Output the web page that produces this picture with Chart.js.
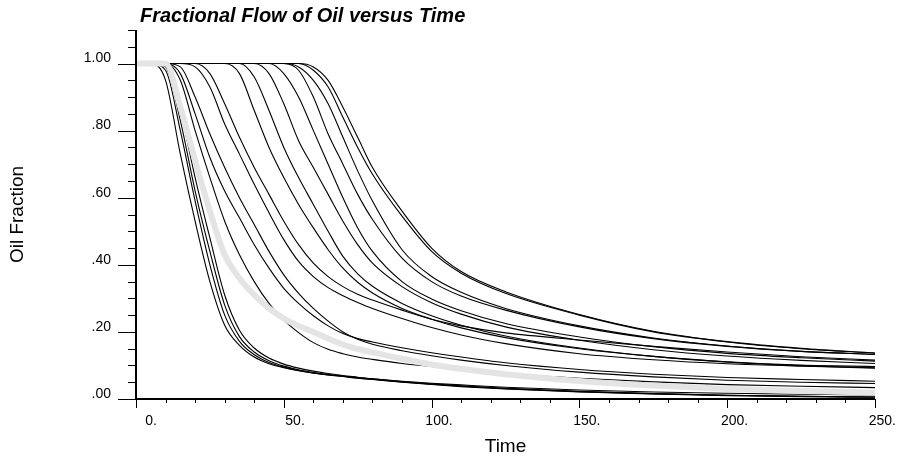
<!DOCTYPE html>
<html>
<head>
<meta charset="utf-8">
<script src="https://cdn.jsdelivr.net/npm/chart.js@4/dist/chart.umd.min.js"></script>
<style>
  html, body { margin: 0; padding: 0; background: #ffffff; }
  canvas { display: block; }
</style>
</head>
<body>
<canvas id="flow" width="898" height="456"></canvas>
<script>
// Sample times shared by every curve
const times = [0, 5, 10, 15, 20, 25, 30, 35, 40, 45, 50, 55, 60, 65, 70, 75, 80, 90, 100, 110, 125, 150, 175, 200, 225, 250];

// Tick labels
const yTickLabels = ['.00', '.20', '.40', '.60', '.80', '1.00'];
const xTickLabels = ['0.', '50.', '100.', '150.', '200.', '250.'];

const chartTitle = 'Fractional Flow of Oil versus Time';

// Highlighted (thick grey) curve
const highlightCurve = [1, 1, 1, 0.87, 0.71, 0.56, 0.43, 0.36, 0.31, 0.27, 0.24, 0.218, 0.2, 0.18, 0.162, 0.149, 0.139, 0.12, 0.103, 0.09, 0.074, 0.054, 0.04, 0.03, 0.024, 0.019];

// Oil fraction of each run, earliest breakthrough first
const run01 = [1, 1, 0.95, 0.73, 0.53, 0.35, 0.22, 0.16, 0.125, 0.105, 0.093, 0.084, 0.077, 0.072, 0.068, 0.064, 0.06, 0.053, 0.047, 0.042, 0.035, 0.027, 0.021, 0.017, 0.014, 0.012];
const run02 = [1, 1, 0.98, 0.8, 0.59, 0.4, 0.25, 0.172, 0.132, 0.109, 0.095, 0.085, 0.078, 0.072, 0.067, 0.062, 0.058, 0.05, 0.043, 0.037, 0.03, 0.021, 0.015, 0.01, 0.007, 0.005];
const run03 = [1, 1, 0.99, 0.83, 0.62, 0.44, 0.28, 0.186, 0.14, 0.114, 0.098, 0.087, 0.079, 0.073, 0.068, 0.063, 0.059, 0.051, 0.044, 0.038, 0.031, 0.022, 0.016, 0.011, 0.008, 0.006];
const run04 = [1, 1, 1, 0.86, 0.66, 0.48, 0.31, 0.205, 0.152, 0.122, 0.104, 0.092, 0.083, 0.076, 0.07, 0.065, 0.06, 0.052, 0.045, 0.039, 0.032, 0.023, 0.016, 0.011, 0.008, 0.006];
const run05 = [1, 1, 1, 0.95, 0.8, 0.66, 0.53, 0.43, 0.35, 0.285, 0.235, 0.198, 0.168, 0.148, 0.135, 0.125, 0.118, 0.106, 0.097, 0.088, 0.076, 0.062, 0.051, 0.043, 0.038, 0.034];
const run06 = [1, 1, 1, 0.97, 0.85, 0.72, 0.62, 0.54, 0.46, 0.39, 0.33, 0.285, 0.248, 0.218, 0.195, 0.18, 0.17, 0.153, 0.138, 0.125, 0.108, 0.088, 0.074, 0.064, 0.058, 0.053];
const run07 = [1, 1, 1, 0.99, 0.9, 0.79, 0.69, 0.6, 0.52, 0.44, 0.37, 0.315, 0.27, 0.232, 0.2, 0.178, 0.163, 0.144, 0.129, 0.116, 0.1, 0.08, 0.066, 0.056, 0.05, 0.046];
const run08 = [1, 1, 1, 1, 0.99, 0.93, 0.82, 0.73, 0.64, 0.555, 0.475, 0.41, 0.365, 0.332, 0.308, 0.288, 0.27, 0.24, 0.213, 0.191, 0.165, 0.135, 0.117, 0.105, 0.098, 0.093];
const run09 = [1, 1, 1, 1, 1, 0.97, 0.88, 0.78, 0.69, 0.61, 0.53, 0.46, 0.405, 0.365, 0.335, 0.312, 0.295, 0.265, 0.238, 0.218, 0.197, 0.176, 0.157, 0.14, 0.126, 0.116];
const run10 = [1, 1, 1, 1, 1, 1, 1, 0.97, 0.86, 0.75, 0.66, 0.58, 0.51, 0.445, 0.39, 0.348, 0.316, 0.27, 0.238, 0.212, 0.183, 0.15, 0.127, 0.111, 0.101, 0.097];
const run11 = [1, 1, 1, 1, 1, 1, 1, 1, 0.96, 0.86, 0.75, 0.66, 0.58, 0.5, 0.425, 0.373, 0.336, 0.285, 0.248, 0.22, 0.188, 0.152, 0.127, 0.11, 0.099, 0.092];
const run12 = [1, 1, 1, 1, 1, 1, 1, 1, 1, 0.97, 0.88, 0.77, 0.69, 0.61, 0.53, 0.46, 0.405, 0.335, 0.287, 0.253, 0.215, 0.175, 0.147, 0.128, 0.115, 0.106];
const run13 = [1, 1, 1, 1, 1, 1, 1, 1, 1, 1, 0.97, 0.9, 0.8, 0.7, 0.6, 0.51, 0.44, 0.35, 0.298, 0.263, 0.225, 0.185, 0.156, 0.136, 0.123, 0.113];
const run14 = [1, 1, 1, 1, 1, 1, 1, 1, 1, 1, 1, 0.98, 0.9, 0.79, 0.7, 0.61, 0.535, 0.42, 0.35, 0.307, 0.265, 0.215, 0.18, 0.157, 0.142, 0.133];
const run15 = [1, 1, 1, 1, 1, 1, 1, 1, 1, 1, 1, 0.99, 0.95, 0.88, 0.78, 0.68, 0.59, 0.445, 0.365, 0.318, 0.27, 0.218, 0.182, 0.158, 0.142, 0.133];
const run16 = [1, 1, 1, 1, 1, 1, 1, 1, 1, 1, 1, 1, 0.98, 0.93, 0.84, 0.75, 0.67, 0.545, 0.44, 0.375, 0.315, 0.25, 0.2, 0.17, 0.15, 0.137];
const run17 = [1, 1, 1, 1, 1, 1, 1, 1, 1, 1, 1, 1, 0.99, 0.95, 0.87, 0.78, 0.69, 0.56, 0.45, 0.38, 0.32, 0.252, 0.202, 0.171, 0.151, 0.137];

const runs = [run01, run02, run03, run04, run05, run06, run07, run08, run09,
              run10, run11, run12, run13, run14, run15, run16, run17];

const FONT = '"Liberation Sans", Arial, Helvetica, sans-serif';

const toPoints = vals => vals.map((v, i) => ({ x: times[i], y: v }));

const datasets = runs.map((vals, i) => ({
  label: 'Run ' + (i + 1),
  data: toPoints(vals),
  borderColor: '#000000',
  borderWidth: 1.1,
  order: 1
}));
datasets.push({
  label: 'Highlighted run',
  data: toPoints(highlightCurve),
  borderColor: '#e4e4e4',
  borderWidth: 6,
  order: 0
});

// Axis lines, long/short tick marks and the title, positioned by the chart's scales
const axisFrame = {
  id: 'axisFrame',
  afterDraw(chart) {
    const { ctx, scales: { x, y } } = chart;
    const left = x.getPixelForValue(x.min);
    const right = x.getPixelForValue(x.max);
    const bottom = y.getPixelForValue(y.min);
    const top = y.getPixelForValue(y.max);
    ctx.save();
    ctx.strokeStyle = '#000000';
    ctx.lineWidth = 1;
    ctx.beginPath();
    y.ticks.forEach((tick, i) => {
      const py = Math.round(y.getPixelForValue(tick.value)) + 0.5;
      const len = i % 4 === 0 ? 18 : 8;
      ctx.moveTo(left - len, py);
      ctx.lineTo(left, py);
    });
    x.ticks.forEach((tick, i) => {
      const px = Math.round(x.getPixelForValue(tick.value)) + 0.5;
      const len = i % 5 === 0 ? 9 : 4;
      ctx.moveTo(px, bottom);
      ctx.lineTo(px, bottom + len);
    });
    ctx.stroke();
    ctx.lineWidth = 2;
    ctx.beginPath();
    ctx.moveTo(Math.round(left), top);
    ctx.lineTo(Math.round(left), Math.round(bottom) + 1);
    ctx.moveTo(Math.round(left), Math.round(bottom));
    ctx.lineTo(right, Math.round(bottom));
    ctx.stroke();

    ctx.fillStyle = '#000000';
    ctx.font = 'italic bold 20px ' + FONT;
    ctx.textAlign = 'left';
    ctx.textBaseline = 'alphabetic';
    ctx.fillText(chartTitle, left + 4, 22);
    ctx.restore();
  }
};

new Chart(document.getElementById('flow'), {
  type: 'line',
  data: { datasets },
  plugins: [axisFrame],
  options: {
    responsive: false,
    animation: false,
    devicePixelRatio: 1,
    layout: { padding: { left: 0, right: 23, top: 30, bottom: 0 } },
    elements: {
      point: { radius: 0 },
      line: { cubicInterpolationMode: 'monotone', fill: false }
    },
    plugins: {
      legend: { display: false },
      tooltip: { enabled: false },
      title: { display: false }
    },
    scales: {
      x: {
        type: 'linear',
        min: 0,
        max: 250,
        grid: { display: false, drawTicks: false, tickLength: 0 },
        border: { display: false },
        afterFit(scale) { scale.height = 57; scale.paddingLeft = 0; scale.paddingRight = 0; },
        ticks: {
          stepSize: 10,
          autoSkip: false,
          maxRotation: 0,
          align: 'end',
          labelOffset: 21,
          padding: 14,
          color: '#000000',
          font: { family: FONT, size: 14 },
          callback: (v, i) => (i % 5 === 0 ? xTickLabels[i / 5] : '')
        },
        title: {
          display: true,
          text: 'Time',
          color: '#000000',
          font: { family: FONT, size: 19, lineHeight: 1.0 },
          padding: { top: 0, bottom: 0 }
        }
      },
      y: {
        type: 'linear',
        min: 0,
        max: 1.1,
        grid: { display: false, drawTicks: false, tickLength: 0 },
        border: { display: false },
        afterFit(scale) { scale.width = 136; scale.paddingTop = 0; scale.paddingBottom = 0; },
        ticks: {
          stepSize: 0.05,
          autoSkip: false,
          labelOffset: -5,
          padding: 25,
          color: '#000000',
          font: { family: FONT, size: 14 },
          callback: (v, i) => (i % 4 === 0 ? yTickLabels[i / 4] : '')
        },
        title: {
          display: true,
          text: 'Oil Fraction',
          color: '#000000',
          font: { family: FONT, size: 19, lineHeight: 1.0 },
          padding: { top: 8, bottom: 0 }
        }
      }
    }
  }
});
</script>
</body>
</html>
